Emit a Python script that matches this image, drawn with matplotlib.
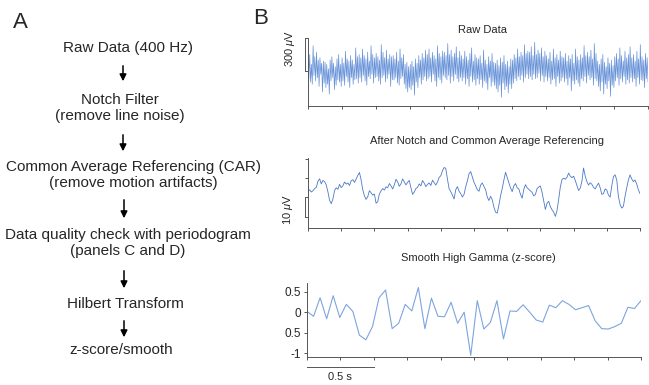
import numpy as np
import matplotlib
matplotlib.use('Agg')
import matplotlib.pyplot as plt
import matplotlib.transforms as mtransforms

plt.rcParams['font.family'] = ['Liberation Sans', 'DejaVu Sans']
plt.rcParams['mathtext.fontset'] = 'custom'
plt.rcParams['mathtext.rm'] = 'Liberation Sans'
plt.rcParams['mathtext.it'] = 'Liberation Sans:italic'

W, H = 649, 385

# panel A: processing steps
steps = ['Raw Data (400 Hz)',
         'Notch Filter\n(remove line noise)',
         'Common Average Referencing (CAR)\n(remove motion artifacts)',
         'Data quality check with periodogram\n(panels C and D)',
         'Hilbert Transform',
         'z-score/smooth']

# panel B: 2.5 s of signal
duration = 2.5
x_ticks = np.arange(0, 2.51, 0.25)

# raw trace, µV
raw_uv = [110, -70, 150, -100, 60, -120, 230, -40, 130, -90, 170, -60, 100, -140, 120, -30, 70, -190, 90, -110,
          80, -150, 60, -120, 20, -210, 100, -90, 130, -60, 70, -170, 40, -130, 110, -80, 150, -100, 60, -140,
          120, -90, 70, -130, 180, -50, 110, -100, 90, -150, 140, -60, 100, -120, 60, -80, 210, -70, 130, -110,
          150, -60, 120, -100, 200, -40, 140, -90, 110, -130, 170, -50, 90, -70, 230, -30, 150, -110, 120, -60,
          160, -50, 130, -90, 100, -120, 240, -60, 170, -40, 120, -100, 190, -70, 110, -30, 150, -140, 130, -80,
          140, -80, 110, -60, 170, -110, 90, -130, 200, -70, 120, -50, 150, -120, 60, -160, 80, -190, 40, -150,
          60, -170, 90, -130, 40, -220, 110, -100, 70, -150, 140, -60, 100, -120, 160, -80, 120, -50, 190, -90,
          150, -70, 200, -50, 120, -100, 170, -30, 140, -90, 110, -140, 230, -60, 160, -80, 130, -110, 180, -40,
          170, -60, 140, -80, 250, -40, 150, -110, 190, -50, 130, -90, 160, -30, 220, -70, 120, -100, 180, -60,
          140, -90, 110, -60, 180, -120, 130, -70, 100, -140, 160, -50, 210, -100, 90, -80, 150, -130, 120, -70,
          110, -120, 140, -80, 70, -150, 190, -90, 100, -110, 60, -170, 130, -60, 90, -140, 160, -100, 80, -130,
          70, -160, 100, -190, 50, -130, 120, -240, 80, -110, 140, -170, 60, -140, 90, -200, 40, -120, 110, -160,
          100, -110, 150, -70, 120, -90, 200, -50, 130, -80, 170, -40, 140, -100, 240, -60, 160, -30, 180, -70,
          170, -50, 220, -80, 140, -30, 260, -70, 150, -60, 190, -20, 160, -90, 210, -40, 130, -100, 180, -50,
          140, -90, 110, -60, 170, -120, 90, -80, 200, -70, 120, -140, 150, -50, 100, -110, 180, -90, 130, -60,
          120, -100, 160, -70, 90, -130, 140, -60, 110, -180, 150, -90, 70, -120, 200, -80, 130, -110, 100, -140,
          150, -70, 120, -90, 230, -50, 140, -110, 170, -40, 130, -80, 190, -60, 110, -130, 250, -70, 160, -90,
          90, -140, 60, -180, 110, -100, 150, -210, 80, -120, 40, -160, 120, -90, 70, -230, 100, -130, 50, -150,
          130, -90, 160, -60, 110, -130, 210, -70, 140, -100, 90, -50, 180, -120, 120, -80, 150, -110, 220, -60,
          120, -100, 150, -70, 90, -140, 180, -60, 110, -120, 240, -80, 130, -90, 100, -150, 160, -70, 120, -100]

# after notch + CAR, µV
car_uv = [3.1, 4.0, 2.8, 3.5, 4.6, 5.2, 8.4, 9.6, 7.0, 8.8, 8.2, 6.4, 2.9, -1.5, -3.2, -0.8, 3.6, 5.0, 4.2, 6.8,
          5.1, 6.0, 8.0, 6.9, 7.5, 6.2, 8.6, 9.2, 7.8, 9.5, 11.4, 12.9, 9.0, 4.0, 0.8, -1.0, 0.4, 3.5, 2.4, 1.2,
          1.8, -3.0, -2.2, 1.8, 3.4, 4.6, 3.8, 5.5, 5.0, 7.2, 6.0, 4.4, 6.5, 9.4, 8.0, 5.8, 7.0, 9.6, 8.0, 6.5,
          7.8, 8.8, 5.0, 1.6, 2.8, 4.6, 5.2, 7.0, 6.0, 8.8, 7.4, 5.6, 6.8, 7.5, 6.2, 8.9, 7.6, 6.4, 8.0, 10.4,
          11.2, 13.8, 15.5, 15.0, 9.5, 4.5, 3.0, 1.2, -0.8, 4.0, 5.6, 3.2, 2.0, 0.2, 1.6, 5.5, 8.5, 12.2, 13.4, 10.5,
          7.8, 6.0, 4.0, 3.2, 6.4, 7.5, 5.6, 4.0, 0.2, -1.6, 0.6, -1.2, -5.0, -7.6, -8.1, -4.0, 0.8, 4.6, 9.0, 13.0,
          10.4, 7.6, 5.0, 3.0, 6.0, 7.2, 5.0, 4.4, 1.6, -0.4, 4.2, 6.6, 5.0, 4.2, 3.4, 2.6, 0.8, 1.5, 4.6, 5.4,
          5.9, 2.6, -1.8, -6.2, -3.0, -2.0, -4.8, -6.4, -7.6, -9.8, -6.8, -1.0, 5.4, 9.2, 10.0, 9.4, 10.4, 12.6, 11.0, 10.2,
          11.0, 8.8, 6.2, 3.6, 4.8, 8.4, 15.2, 11.0, 8.2, 6.4, 7.6, 6.8, 5.2, 4.4, 6.0, 7.4, 5.0, 1.6, 2.0, 4.4,
          3.8, 1.2, 0.2, 6.0, 10.8, 11.7, 9.0, 0.4, -3.6, -5.5, -4.6, 0.6, 5.0, 9.0, 11.7, 9.6, 8.2, 9.0, 7.0, 4.0,
          2.0]

# smoothed high gamma, z-score
hg_z = [0.02, -0.1, 0.35, -0.16, 0.4, -0.13, 0.19, 0.02, -0.56, -0.67, -0.35, 0.35, 0.54,
        -0.4, -0.27, 0.19, 0.03, 0.6, -0.4, 0.34, -0.1, -0.11, 0.24, -0.27, 0.0, -1.05,
        0.28, -0.41, -0.25, 0.28, -0.65, 0.03, 0.02, 0.18, 0.0, -0.19, -0.24, 0.17, 0.11,
        0.28, 0.19, 0.06, 0.11, 0.16, -0.21, -0.4, -0.41, -0.35, -0.27, 0.12, 0.09, 0.28]
z_ticks = [-1, -0.5, 0, 0.5]
z_ticklabels = ['-1', '0.5', '0', '0.5']

text_color = '#262626'
axis_color = '#555555'


def fx(x):
    return x / W


def fy(y):
    return 1 - y / H


def add_axes(fig, left, top, right, bottom):
    ax = fig.add_axes([fx(left), fy(bottom), (right - left) / W, (bottom - top) / H])
    for s in ['top', 'right']:
        ax.spines[s].set_visible(False)
    for s in ['left', 'bottom']:
        ax.spines[s].set_color(axis_color)
        ax.spines[s].set_linewidth(0.7)
    ax.tick_params(colors=axis_color, width=0.7, length=2.5, labelsize=8.5, pad=1.5, labelcolor=text_color)
    ax.set_xlim(0, duration)
    ax.set_xticks(x_ticks)
    ax.set_xticklabels([])
    ax.patch.set_alpha(0)
    return ax


def add_bracket(fig, ax, y0, y1):
    # vertical bar joining the tips of two y ticks
    off = mtransforms.ScaledTranslation(-2.5 / 72, 0, fig.dpi_scale_trans)
    ax.plot([0, 0], [y0, y1], color=axis_color, lw=0.7, clip_on=False,
            transform=ax.get_yaxis_transform() + off)


def panel_a(fig):
    fig.text(fx(20), fy(22), 'A', fontsize=16, ha='center', va='center', color=text_color)
    positions = [(128, 48), (120, 108), (133, 175), (128, 243), (125, 304), (121, 350)]
    for label, (x, y) in zip(steps, positions):
        fig.text(fx(x), fy(y), label, fontsize=11, ha='center', va='center',
                 color=text_color, linespacing=1.25)
    arrows = [(123, 63, 84), (123, 132, 154), (124, 197, 221), (124, 268, 291), (124, 318, 340)]
    for x, y0, y1 in arrows:
        fig.patches.append(matplotlib.patches.FancyArrowPatch(
            (fx(x), fy(y0)), (fx(x), fy(y1)), transform=fig.transFigure,
            arrowstyle='-|>', mutation_scale=10, lw=1.1, color='black'))


def panel_b(fig):
    fig.text(fx(261), fy(18), 'B', fontsize=16, ha='center', va='center', color=text_color)

    ax = add_axes(fig, 308, 38, 648, 106)
    t = np.linspace(0, duration, len(raw_uv))
    ax.plot(t, raw_uv, color='#6792d8', lw=0.5)
    ax.set_ylim(-318, 300)
    ax.set_yticks([0, 300])
    ax.set_yticklabels([])
    add_bracket(fig, ax, 0, 300)
    fig.text(fx(483), fy(30), 'Raw Data', fontsize=8, ha='center', va='center', color=text_color)
    fig.text(fx(290), fy(48), r'300 $\mu$V', fontsize=8, rotation=90, ha='center', va='center', color=text_color)

    ax = add_axes(fig, 308, 158, 640, 228)
    t = np.linspace(0, duration, len(car_uv))
    ax.plot(t, car_uv, color='#4a78c9', lw=0.6)
    ax.set_ylim(-15.8, 20.4)
    ax.set_yticks([-10, 0, 10, 20])
    ax.set_yticklabels([])
    add_bracket(fig, ax, -10, 0)
    fig.text(fx(487), fy(141), 'After Notch and Common Average Referencing', fontsize=8,
             ha='center', va='center', color=text_color)
    fig.text(fx(288), fy(210), r'10 $\mu$V', fontsize=8, rotation=90, ha='center', va='center', color=text_color)

    ax = add_axes(fig, 307, 283, 641, 357)
    t = np.linspace(0, duration, len(hg_z))
    ax.plot(t, hg_z, color='#7da5de', lw=0.8)
    ax.set_ylim(-1.09, 0.71)
    ax.set_yticks(z_ticks)
    ax.set_yticklabels(z_ticklabels)
    fig.text(fx(478), fy(258), 'Smooth High Gamma (z-score)', fontsize=8,
             ha='center', va='center', color=text_color)
    # 0.5 s scale bar under the time axis
    bar = mtransforms.blended_transform_factory(ax.transData, fig.transFigure)
    ax.plot([0, 0.5], [fy(367), fy(367)], color=axis_color, lw=0.7, clip_on=False, transform=bar)
    fig.text(fx(340), fy(377), '0.5 s', fontsize=8, ha='center', va='center', color=text_color)


def main():
    fig = plt.figure(figsize=(W / 100, H / 100), dpi=100)
    panel_a(fig)
    panel_b(fig)
    fig.savefig('out.png', dpi=100, facecolor='white')


if __name__ == '__main__':
    main()
